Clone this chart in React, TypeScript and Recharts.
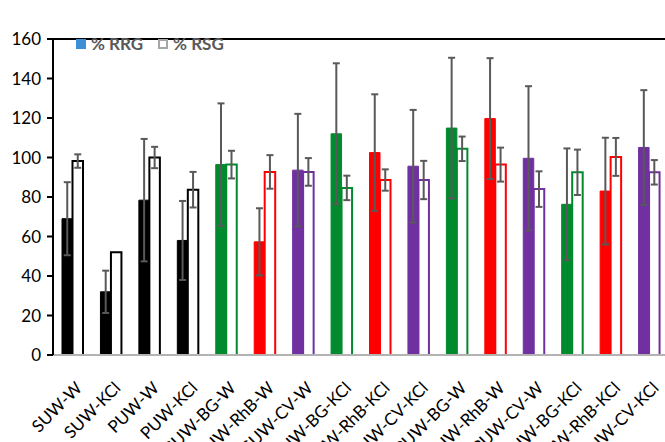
import { Bar, BarChart, Cell, ErrorBar, Legend, ReferenceLine, XAxis, YAxis } from "recharts";

const categories = [
  "SUW-W", "SUW-KCl", "PUW-W", "PUW-KCl",
  "SUW-BG-W", "SUW-RhB-W", "SUW-CV-W",
  "SUW-BG-KCl", "SUW-RhB-KCl", "SUW-CV-KCl",
  "PUW-BG-W", "PUW-RhB-W", "PUW-CV-W",
  "PUW-BG-KCl", "PUW-RhB-KCl", "PUW-CV-KCl",
];
const rrg = [69, 32, 78.4, 58, 96.4, 57.3, 93.6, 112, 102.5, 95.6, 114.9, 119.7, 99.6, 76.3, 83, 105.1];
const rrgErr = [18.5, 10.7, 31, 20, 31, 17, 28.5, 35.7, 29.5, 28.5, 35.6, 30.6, 36.5, 28.3, 27, 29];
const rsg = [98.2, 52, 100, 83.7, 96.4, 92.7, 92.7, 84.6, 88.6, 88.6, 104.4, 96.4, 84, 92.5, 100.3, 92.5];
const rsgErr = [3.4, 0, 5.4, 9, 7, 8.5, 7, 6.2, 5.4, 9.7, 6.2, 8.6, 9, 11.5, 9.6, 6.2];
const yTicks = [0, 20, 40, 60, 80, 100, 120, 140, 160];

const BLACK = "#000000";
const GREEN = "#008a2e";
const RED = "#ff0000";
const PURPLE = "#7030a0";
const dyeColors = [BLACK, BLACK, BLACK, BLACK, GREEN, RED, PURPLE, GREEN, RED, PURPLE, GREEN, RED, PURPLE, GREEN, RED, PURPLE];

const rows = categories.map((name, i) => ({
  name,
  rrg: rrg[i],
  rrgErr: rrgErr[i],
  rsg: rsg[i],
  rsgErr: rsgErr[i],
}));

const FONT = "Lato, 'Liberation Sans', sans-serif";
const NARROW = "'Liberation Sans Narrow', Lato, sans-serif";

function XTick(props: any) {
  const { x, y, payload } = props;
  const ax = x + 8;
  const ay = y + 23;
  return (
    <text
      x={ax}
      y={ay}
      transform={`rotate(-45 ${ax} ${ay})`}
      textAnchor="end"
      dominantBaseline="middle"
      fontFamily={FONT}
      fontSize={17}
      fill="#000"
    >
      {payload.value}
    </text>
  );
}

function LegendBox() {
  return (
    <div style={{ display: "flex", alignItems: "center", fontFamily: NARROW, fontWeight: 700, fontSize: 17, color: "#595959", lineHeight: "20px" }}>
      <span style={{ width: 10, height: 10, background: "#3f8fd6", display: "inline-block", marginRight: 5 }} />
      <span style={{ marginRight: 15 }}>% RRG</span>
      <span style={{ width: 6, height: 6, border: "2px solid #a6a6a6", display: "inline-block", marginRight: 5 }} />
      <span>% RSG</span>
    </div>
  );
}

export default function App() {
  return (
    <div style={{ position: "absolute", left: 0, top: 0, width: 665, height: 442, overflow: "hidden", background: "#fff" }}>
      <BarChart
        width={672}
        height={442}
        data={rows}
        margin={{ top: 19, right: 4, left: 0, bottom: 0 }}
        barSize={10.5}
        barGap={0}
      >
        <XAxis
          dataKey="name"
          interval={0}
          tick={<XTick />}
          tickLine={false}
          axisLine={{ stroke: "#b3b3b3", strokeWidth: 2 }}
          height={87}
        />
        <YAxis
          domain={[0, 160]}
          ticks={yTicks}
          width={53}
          axisLine={{ stroke: "#000", strokeWidth: 2 }}
          tickLine={{ stroke: "#000", strokeWidth: 2 }}
          tickSize={6}
          tickMargin={6}
          tick={{ fill: "#000", fontSize: 17, fontFamily: FONT }}
        />
        <ReferenceLine y={160} stroke="#000" strokeWidth={2} />
        <Legend
          verticalAlign="top"
          align="left"
          content={<LegendBox />}
          wrapperStyle={{ top: 34, left: 76, width: "auto" }}
        />
        <Bar dataKey="rrg" isAnimationActive={false}>
          {rows.map((r, i) => (
            <Cell key={r.name} fill={dyeColors[i]} stroke={dyeColors[i]} strokeWidth={1} />
          ))}
          <ErrorBar dataKey="rrgErr" width={3.5} stroke="#595959" strokeWidth={2} />
        </Bar>
        <Bar dataKey="rsg" isAnimationActive={false}>
          {rows.map((r, i) => (
            <Cell key={r.name} fill="#ffffff" stroke={dyeColors[i]} strokeWidth={2} />
          ))}
          <ErrorBar dataKey="rsgErr" width={3.5} stroke="#595959" strokeWidth={2} />
        </Bar>
      </BarChart>
    </div>
  );
}
